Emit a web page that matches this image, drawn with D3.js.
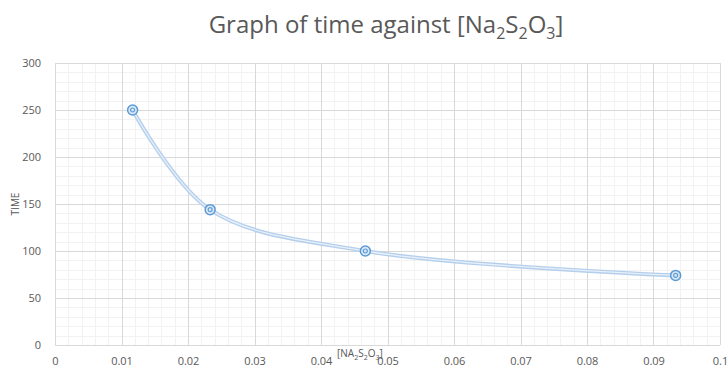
<!DOCTYPE html>
<html><head><meta charset="utf-8">
<script src="https://cdn.jsdelivr.net/npm/d3@7"></script>
<style>body{margin:0;background:#fff}svg{display:block}text{font-family:"Open Sans","Liberation Sans",sans-serif}</style>
</head><body><svg id="c" width="728" height="367"></svg>
<script>
const concentration = [0.01167, 0.02333, 0.04667, 0.09333];
const timeValues = [250, 144, 100, 74];
const xTicks = [0,0.01,0.02,0.03,0.04,0.05,0.06,0.07,0.08,0.09,0.1];
const yTicks = [0,50,100,150,200,250,300];

const svg = d3.select("#c");
const L=55,R=720,T=63,B=345;
const x = d3.scaleLinear().domain([0,0.1]).range([L,R]);
const y = d3.scaleLinear().domain([0,300]).range([B,T]);
const g = svg.append("g");
const xMinor = d3.range(0,0.1001,0.002), yMinor = d3.range(0,300.1,10);
g.selectAll(".xm").data(xMinor).join("line").attr("x1",d=>Math.round(x(d))+0.5).attr("x2",d=>Math.round(x(d))+0.5).attr("y1",T).attr("y2",B).attr("stroke","#f2f2f2");
g.selectAll(".ym").data(yMinor).join("line").attr("y1",d=>Math.round(y(d))+0.5).attr("y2",d=>Math.round(y(d))+0.5).attr("x1",L).attr("x2",R).attr("stroke","#f2f2f2");
g.selectAll(".xM").data(xTicks).join("line").attr("x1",d=>Math.round(x(d))+0.5).attr("x2",d=>Math.round(x(d))+0.5).attr("y1",T).attr("y2",B).attr("stroke","#d9d9d9");
g.selectAll(".yM").data(yTicks).join("line").attr("y1",d=>Math.round(y(d))+0.5).attr("y2",d=>Math.round(y(d))+0.5).attr("x1",L).attr("x2",R).attr("stroke","#d9d9d9");

const xa = svg.append("g").attr("transform",`translate(0,${B+9})`).call(d3.axisBottom(x).tickValues(xTicks).tickSize(0).tickFormat(d=>d3.format("")(+d.toFixed(2))));
xa.select(".domain").remove();
xa.selectAll("text").attr("fill","#595959").style("font-size","11px");
const ya = svg.append("g").attr("transform",`translate(${L-11},0)`).call(d3.axisLeft(y).tickValues(yTicks).tickSize(0));
ya.select(".domain").remove();
ya.selectAll("text").attr("fill","#595959").style("font-size","11px").attr("dy","0.35em");

const t = svg.append("text").attr("x",386).attr("y",33).attr("text-anchor","middle").attr("fill","#595959").style("font-size","24px");
t.append("tspan").text("Graph of time against [Na");
t.append("tspan").text("2").attr("dy",6).style("font-size","16px");
t.append("tspan").text("S").attr("dy",-6);
t.append("tspan").text("2").attr("dy",6).style("font-size","16px");
t.append("tspan").text("O").attr("dy",-6);
t.append("tspan").text("3").attr("dy",6).style("font-size","16px");
t.append("tspan").text("]").attr("dy",-6);

const xt = svg.append("text").attr("x",337).attr("y",357).attr("fill","#595959").style("font-size","10px");
xt.append("tspan").text("[NA");
xt.append("tspan").text("2").attr("dy",3).style("font-size","7px");
xt.append("tspan").text("S").attr("dy",-3);
xt.append("tspan").text("2").attr("dy",3).style("font-size","7px");
xt.append("tspan").text("O").attr("dy",-3);
xt.append("tspan").text("3").attr("dy",3).style("font-size","7px");
xt.append("tspan").text("]").attr("dy",-3);
svg.append("text").attr("transform","translate(19,204) rotate(-90)").attr("text-anchor","middle").attr("fill","#595959").style("font-size","10px").text("TIME");

const pts = concentration.map((c,i)=>[x(c),y(timeValues[i])]);
const line = d3.line().curve(d3.curveCatmullRom.alpha(0.5));
svg.append("path").attr("d",line(pts)).attr("fill","none").attr("stroke","#b4cfec").attr("stroke-width",4);
svg.append("path").attr("d",line(pts)).attr("fill","none").attr("stroke","#e8f0fa").attr("stroke-width",1.3);

const m = svg.selectAll(".m").data(pts).join("g").attr("transform",d=>`translate(${d[0]},${d[1]})`);
m.append("circle").attr("r",5).attr("fill","#dbe8f6").attr("stroke","#5b9bd5").attr("stroke-width",1.5);
m.append("circle").attr("r",2).attr("fill","none").attr("stroke","#5b9bd5").attr("stroke-width",1.2);
</script></body></html>
